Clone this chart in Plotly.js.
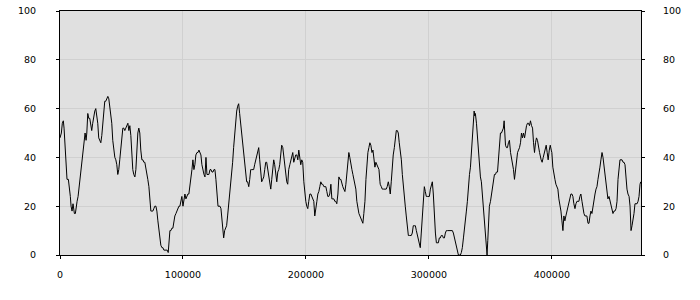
<!DOCTYPE html>
<html>
<head>
<meta charset="utf-8">
<script src="https://cdn.plot.ly/plotly-3.0.1.min.js"></script>
<style>html,body{margin:0;padding:0;background:#fff;}#chart{width:700px;height:300px;}</style>
</head>
<body>
<div id="chart"></div>
<script>
// Series, in four consecutive stretches
var xA = [0,1100,1900,2700,3300,4100,4900,5700,6800,7600,8400,9000,9800,10600,11200,11700,12500,13100,13900,14700,15500,16300,17100,17900,18800,19600,20400,21200,21800,22600,23400,24200,25000,25800,26600,27500,28300,29100,29900,30700,31500,32300,33200,34000,34800,35600,36400,37200,38000,38900,39700,40500,41300,42100,42900,43700,44600,45400,46200,47000,47800,48600,49400,50300,51100,51900,52700,53500,54300,55200,56000,56800,57600,58400,59200,60000,60900,61700,62500,63300,64100,64900,65700,66600,67400,68200,69000,69800,70600,71400,72300,73100,73900,74700,75500,76300,77100,78000,78800,79600,80400,81200,82000,82900,83700,84500,85300,86100,87200,88000,88600,89400,90200,91000,91800,92600,93400,94300,95100,95900,96700,97500,98300,99100,100000,100800,101600,102400,103200,104000,104800,105700,106500,107300,108100,108900,109700,110500,111400,112200,113000,113800,114600,115400,116300,117100,117900,118700,119500,120300,121100,122000,122800,123600,124400,125200,126000,126800,127700,128500,129300];
var yA = [48,50,54,55,52,46,36,31,31,28,24,20,18,21,18,17,17,20,22,24,28,32,36,40,44,47,50,47,50,58,56,56,54,51,54,57,59,60,57,54,48,47,46,49,53,57,63,63,64,65,64,61,57,54,47,42,40,39,37,33,35,39,43,47,52,52,51,52,53,54,51,53,49,40,35,33,32,35,43,50,52,50,43,39,39,38,38,36,34,31,28,22,18,18,18,19,20,20,18,14,10,7,4,3,3,2,2,2,2,1,5,10,10,11,11,14,16,17,18,19,20,20,22,24,20,23,25,23,24,25,25,28,31,35,39,35,37,41,42,42,43,42,41,37,34,33,32,40,33,33,33,35,35,34,34,35,35,31,25,20,20];

var xB = [130100,130900,131700,132500,133100,133900,134700,135500,136300,137200,138000,138800,139600,140400,141200,142000,142900,143700,144500,145300,146100,146900,147800,148600,149400,150200,151000,151800,152600,153500,154300,155100,155900,156700,157500,158300,159200,160000,160800,161600,162400,163200,164000,164900,165700,166500,167300,168100,168900,169700,170600,171400,172200,173000,173800,174600,175500,176300,177100,177900,178700,179500,180300,181200,182000,182800,183600,184400,185200,186000,186900,187700,188500,189300,190100,190900,191700,192600,193400,194200,195000,195800,196600,197400,198300,199100,199900,200700,201500,202300,203200,204000,204800,205600,206400,207200,208000,208900,209700,210500,211300,212100,212900,213700,214600,215400,216200,217000,217800,218600,219400,220300,221100,221900,222700,223500,224300,225100,226000,226800,227600,228400,229200,230000,230800,231700,232500,233300,234100,234900,235700,236500,237400,238200,239000,239800,240600,241400,242300,243100,243900,244700,245500,246300,247100,248000,248800,249600,250400,251200,252000,252800,253700,254500,255300,256100,256900,257700,258500,259400,260200];
var yB = [20,19,14,9,7,10,11,12,16,21,25,27,33,38,44,50,55,59,61,62,58,54,48,44,41,35,31,30,30,28,31,35,35,35,35,37,39,40,42,44,39,33,30,31,32,35,38,38,35,33,30,27,31,35,39,37,33,30,34,35,37,42,45,44,40,37,35,30,29,35,37,39,40,42,38,40,41,41,39,43,39,37,39,38,30,25,22,20,19,22,25,25,24,23,22,16,20,22,25,26,28,30,29,29,28,28,28,26,24,24,25,29,23,23,23,22,22,21,25,32,31,31,29,28,27,26,29,33,37,42,40,37,35,33,31,30,27,22,18,17,16,15,14,13,17,22,31,37,42,44,46,45,42,43,39,36,38,37,36,35,30];

var xC = [260400,261300,262100,262900,263700,264500,265300,266100,267000,267800,268600,269400,270200,271000,271900,272700,273500,274300,275100,275900,276700,277600,278400,279200,280000,280800,281600,282400,283300,284100,284900,285700,286500,287300,288100,289000,289800,290600,291400,292200,293000,293800,294700,295500,296300,297100,297900,298700,299500,300400,301200,302000,302800,303600,304400,305300,306100,306900,307700,308500,309300,310100,311000,311800,312600,313400,314200,315000,315800,316700,317500,318300,319100,319900,320700,321500,322400,323200,324000,324800,325600,326400,327200,328100,328900,329700,330500,331300,332100,333000,333800,334600,335400,336200,336800,337300,337800,338700,339500,340300,341100,341900,342700,343500,344400,345200,346000,346800,347300,347900,348400,349200,350100,350900,351700,352500,353300,354100,354900,355800,356600,357400,358200,359000,359800,360600,361200,361700,362300,363100,363900,364700,365500,366400,367200,368000,368800,369600,370400,371200,372100,372900,373700,374500,375300,376100,376900,377800,378600,379400,380200,381000,381800,382600,383500,384300,385100,385900,386700,387500,388300,389200,390000];
var yC = [29,28,27,27,27,27,27,28,30,28,25,30,36,41,44,48,51,51,50,46,43,39,33,28,22,20,16,11,8,8,8,8,9,12,12,12,10,8,6,4,3,9,17,25,28,26,24,24,24,24,27,29,30,25,16,9,5,5,5,7,7,8,8,7,7,9,10,10,10,10,10,10,10,9,7,5,3,1,0,0,0,1,3,7,10,14,18,22,29,33,36,42,47,54,59,57,58,54,49,43,36,32,30,25,20,14,9,3,0,6,14,20,22,25,29,32,33,33,34,34,40,47,50,50,51,52,55,51,45,44,44,46,47,42,40,37,35,31,35,40,42,43,44,46,50,48,50,48,51,53,54,54,53,55,53,52,46,42,46,48,47,43,42];

var xD = [391300,392100,393000,393800,394600,395400,396200,397000,397900,398700,399500,400000,400800,401700,402500,403300,404100,404900,405700,406500,407400,408200,409000,409800,410600,411400,412200,413100,413900,414700,415500,416300,417100,417900,418800,419600,420400,421200,422000,422800,423600,424500,425300,426100,426900,427700,428500,429400,430200,431000,431800,432600,433400,434200,435100,435900,436700,437500,438300,439100,439900,440800,441600,442400,443200,444000,444800,445600,446500,447300,448100,448900,449700,450500,451300,452200,453000,453800,454600,455400,456200,457100,457900,458700,459500,460300,461100,461900,462800,463600,464400,465200,466000,466800,467600,468500,469300,470100,470900,471700,472300];
var yD = [39,38,40,42,44,45,42,39,43,45,43,42,36,32,31,29,28,27,23,21,18,14,10,16,14,16,18,20,22,24,25,25,24,21,19,21,22,22,22,24,25,22,19,17,16,16,16,13,13,16,18,17,20,22,25,27,28,31,33,36,39,42,40,36,33,30,25,23,24,22,21,19,17,18,18,19,22,31,36,39,39,39,38,38,37,29,27,25,24,20,10,12,14,17,21,21,21,22,24,29,30];

var xTicks = [0, 100000, 200000, 300000, 400000];
var yTicks = [0, 20, 40, 60, 80, 100];

var xValues = xA.concat(xB, xC, xD);
var yValues = yA.concat(yB, yC, yD);

var font = {family: 'DejaVu Sans, Verdana, sans-serif', size: 9.5, color: '#000'};
var clear = 'rgba(0,0,0,0)';

var traces = [
  {x: xValues, y: yValues, type: 'scatter', mode: 'lines',
   line: {color: '#000', width: 1}, hoverinfo: 'skip', showlegend: false},
  {x: xValues, y: yValues, type: 'scatter', mode: 'lines', yaxis: 'y2',
   line: {color: clear, width: 0}, hoverinfo: 'skip', showlegend: false},
  {x: xValues, y: yValues, type: 'scatter', mode: 'lines', yaxis: 'y3',
   line: {color: clear, width: 0}, hoverinfo: 'skip', showlegend: false}
];

var layout = {
  width: 700, height: 300,
  margin: {l: 60, r: 59, t: 11, b: 45, pad: 0},
  paper_bgcolor: '#ffffff',
  plot_bgcolor: '#e0e0e0',
  font: font,
  showlegend: false,
  xaxis: {
    range: [0, 472500], tickvals: xTicks, tickformat: 'd',
    showgrid: true, gridcolor: '#d0d0d0', gridwidth: 1, zeroline: false,
    showline: true, linecolor: '#000', linewidth: 1, mirror: true,
    ticks: 'outside', ticklen: 3, tickcolor: '#000', ticklabelstandoff: 8,
    tickfont: font
  },
  // main y axis: grid, frame and the short visible ticks on both sides
  yaxis: {
    range: [0, 100], tickvals: yTicks, showticklabels: false,
    showgrid: true, gridcolor: '#d0d0d0', gridwidth: 1, zeroline: false,
    showline: true, linecolor: '#000', linewidth: 1, mirror: 'ticks',
    ticks: 'outside', ticklen: 3, tickcolor: '#000'
  },
  // right-hand labels
  yaxis2: {
    range: [0, 100], tickvals: yTicks, overlaying: 'y', side: 'right',
    showgrid: false, zeroline: false, showline: false,
    ticks: 'outside', ticklen: 19, tickcolor: clear,
    tickfont: font
  },
  // left-hand labels
  yaxis3: {
    range: [0, 100], tickvals: yTicks, overlaying: 'y', side: 'left',
    showgrid: false, zeroline: false, showline: false,
    ticks: 'outside', ticklen: 21, tickcolor: clear,
    tickfont: font
  }
};

Plotly.newPlot('chart', traces, layout, {displayModeBar: false, staticPlot: true});
</script>
</body>
</html>
